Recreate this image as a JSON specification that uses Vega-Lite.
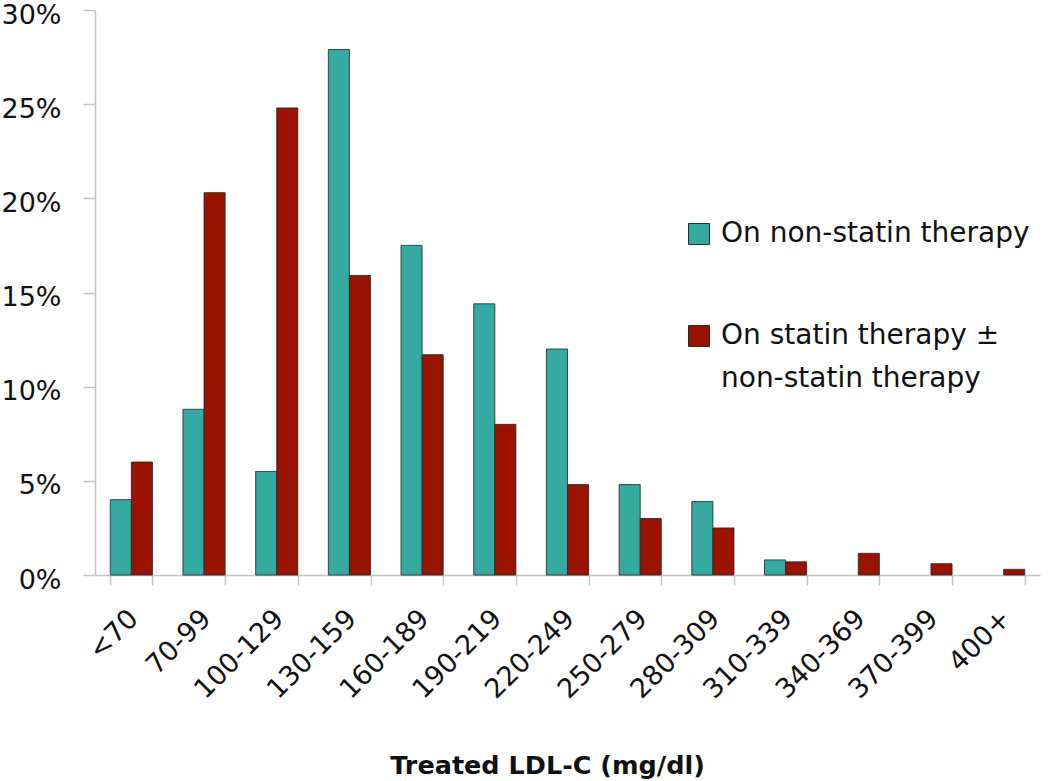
{
  "$schema": "https://vega.github.io/schema/vega-lite/v6.json",
  "autosize": {"type": "none"},
  "padding": {"left": 95, "top": 10, "right": 10, "bottom": 206},
  "width": 945,
  "height": 565,
  "background": "white",
  "data": {
    "values": [
      {"range": "<70", "series": "On non-statin therapy", "pct": 4.0},
      {"range": "<70", "series": "On statin therapy ± non-statin therapy", "pct": 6.0},
      {"range": "70-99", "series": "On non-statin therapy", "pct": 8.8},
      {"range": "70-99", "series": "On statin therapy ± non-statin therapy", "pct": 20.3},
      {"range": "100-129", "series": "On non-statin therapy", "pct": 5.5},
      {"range": "100-129", "series": "On statin therapy ± non-statin therapy", "pct": 24.8},
      {"range": "130-159", "series": "On non-statin therapy", "pct": 27.9},
      {"range": "130-159", "series": "On statin therapy ± non-statin therapy", "pct": 15.9},
      {"range": "160-189", "series": "On non-statin therapy", "pct": 17.5},
      {"range": "160-189", "series": "On statin therapy ± non-statin therapy", "pct": 11.7},
      {"range": "190-219", "series": "On non-statin therapy", "pct": 14.4},
      {"range": "190-219", "series": "On statin therapy ± non-statin therapy", "pct": 8.0},
      {"range": "220-249", "series": "On non-statin therapy", "pct": 12.0},
      {"range": "220-249", "series": "On statin therapy ± non-statin therapy", "pct": 4.8},
      {"range": "250-279", "series": "On non-statin therapy", "pct": 4.8},
      {"range": "250-279", "series": "On statin therapy ± non-statin therapy", "pct": 3.0},
      {"range": "280-309", "series": "On non-statin therapy", "pct": 3.9},
      {"range": "280-309", "series": "On statin therapy ± non-statin therapy", "pct": 2.5},
      {"range": "310-339", "series": "On non-statin therapy", "pct": 0.8},
      {"range": "310-339", "series": "On statin therapy ± non-statin therapy", "pct": 0.7},
      {"range": "340-369", "series": "On statin therapy ± non-statin therapy", "pct": 1.15},
      {"range": "370-399", "series": "On statin therapy ± non-statin therapy", "pct": 0.6},
      {"range": "400+", "series": "On statin therapy ± non-statin therapy", "pct": 0.3}
    ]
  },
  "mark": {"type": "bar", "stroke": "#2a2a2a", "strokeWidth": 1, "strokeOpacity": 0.85},
  "encoding": {
    "x": {
      "field": "range",
      "type": "nominal",
      "sort": ["<70", "70-99", "100-129", "130-159", "160-189", "190-219", "220-249", "250-279", "280-309", "310-339", "340-369", "370-399", "400+"],
      "scale": {"paddingInner": 0.42, "paddingOuter": 0.21},
      "axis": {
        "title": "Treated LDL-C (mg/dl)",
        "titleFont": "DejaVu Sans",
        "titleFontSize": 25.5,
        "titleFontWeight": "bold",
        "titleColor": "#111",
        "titleX": 452,
        "titleY": 198,
        "titleBaseline": "alphabetic",
        "labelAngle": -45,
        "labelFont": "DejaVu Sans",
        "labelFontSize": 27,
        "labelColor": "#111",
        "labelPadding": 20,
        "labelOffset": -7,
        "tickBand": "extent",
        "tickSize": 10,
        "tickColor": "#c4c4c4",
        "domainColor": "#c4c4c4",
        "domainWidth": 1.5,
        "tickWidth": 1.5
      }
    },
    "xOffset": {
      "field": "series",
      "type": "nominal",
      "sort": ["On non-statin therapy", "On statin therapy ± non-statin therapy"]
    },
    "y": {
      "field": "pct",
      "type": "quantitative",
      "scale": {"domain": [0, 30], "nice": false},
      "axis": {
        "title": null,
        "values": [0, 5, 10, 15, 20, 25, 30],
        "labelExpr": "datum.value + '%'",
        "grid": false,
        "labelFont": "DejaVu Sans",
        "labelFontSize": 27,
        "labelColor": "#111",
        "labelPadding": 22,
        "labelOffset": 5,
        "tickSize": 12,
        "tickColor": "#c4c4c4",
        "domainColor": "#c4c4c4",
        "domainWidth": 1.5,
        "tickWidth": 1.5
      }
    },
    "color": {
      "field": "series",
      "type": "nominal",
      "sort": ["On non-statin therapy", "On statin therapy ± non-statin therapy"],
      "scale": {"range": ["#35AAA0", "#9A1300"]},
      "legend": {
        "title": null,
        "orient": "none",
        "legendX": 590,
        "legendY": 210,
        "padding": 0,
        "symbolType": "square",
        "symbolSize": 441,
        "symbolStrokeColor": "#2a2a2a",
        "symbolStrokeWidth": 1,
        "labelFont": "DejaVu Sans",
        "labelFontSize": 28,
        "labelColor": "#111",
        "labelOffset": 8,
        "labelLimit": 500,
        "rowPadding": 74,
        "labelExpr": "datum.label == 'On statin therapy ± non-statin therapy' ? ['On statin therapy ±', 'non-statin therapy'] : datum.label"
      }
    }
  },
  "config": {
    "view": {"stroke": null},
    "style": {"guide-label": {"lineHeight": 43}}
  }
}
